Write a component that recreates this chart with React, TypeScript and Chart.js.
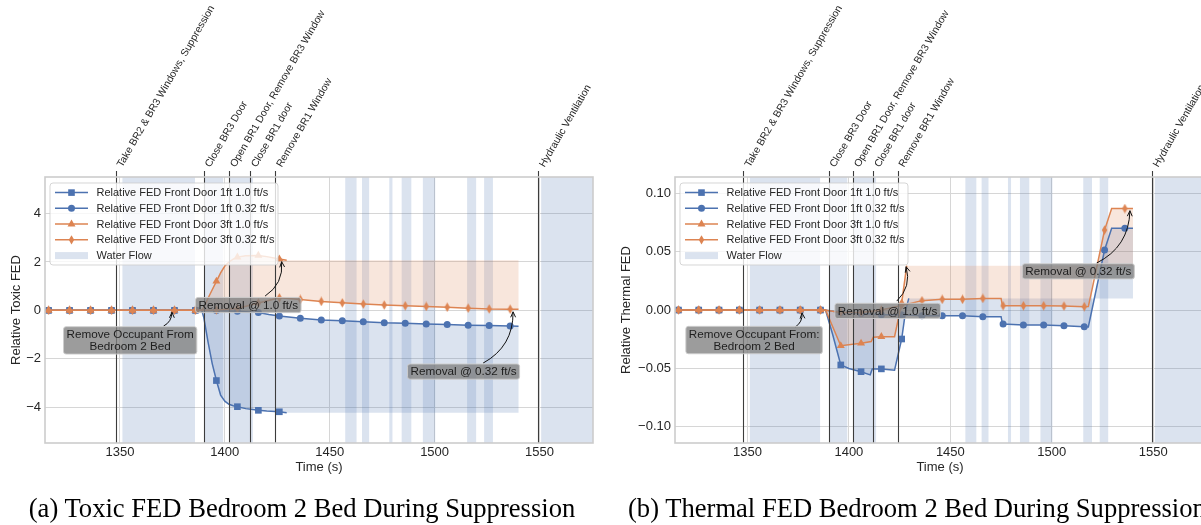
import React, { useEffect, useRef } from "react";
import { Chart, registerables } from "chart.js";

Chart.register(...registerables);

const BLUE = "#4C72B0";
const ORANGE = "#DD8452";
const TEXT = "#262626";
const FONT = "'Liberation Sans', Arial, sans-serif";

// ---------- shared axis / event data ----------
const xTicks = [1350, 1400, 1450, 1500, 1550];
const xRange = [1314.3, 1575.5];
const markerTimes = [1316, 1326, 1336, 1346, 1356, 1366, 1376, 1386, 1396, 1406, 1416, 1426, 1436, 1446, 1456, 1466, 1476, 1486, 1496, 1506, 1516, 1526, 1536];

const eventTimes = [1348, 1390, 1402, 1412, 1424, 1549.3];
const eventLabels = [
  "Take BR2 & BR3 Windows, Suppression",
  "Close BR3 Door",
  "Open BR1 Door, Remove BR3 Window",
  "Close BR1 door",
  "Remove BR1 Window",
  "Hydraulic Ventilation",
];

const waterStart = [1351.2, 1390.2, 1402.2, 1457.4, 1465.4, 1478.4, 1484.3, 1494.4, 1515.5, 1523.6, 1550.8];
const waterEnd = [1385.8, 1399.2, 1413.4, 1462.8, 1468.8, 1479.9, 1488.9, 1500.3, 1519.8, 1527.8, 1600];

const seriesLabels = [
  "Relative FED Front Door 1ft 1.0 ft/s",
  "Relative FED Front Door 1ft 0.32 ft/s",
  "Relative FED Front Door 3ft 1.0 ft/s",
  "Relative FED Front Door 3ft 0.32 ft/s",
];
const waterLabel = "Water Flow";

// ---------- (a) toxic FED ----------
const toxYTicks = [-4, -2, 0, 2, 4];
const toxYRange = [-5.48, 5.51];

const toxT_1ft10 = [1316, 1326, 1336, 1346, 1356, 1366, 1376, 1386, 1389, 1390, 1392, 1394, 1396, 1398, 1400, 1402, 1404, 1406, 1410, 1416, 1420, 1426, 1429.5];
const toxV_1ft10 = [0, 0, 0, 0, 0, 0, 0, 0, 0, -0.3, -1.3, -2.2, -2.9, -3.5, -3.75, -3.88, -3.94, -3.98, -4.06, -4.13, -4.16, -4.19, -4.23];

const toxT_1ft032 = [1316, 1326, 1336, 1346, 1356, 1366, 1376, 1386, 1389, 1396, 1406, 1416, 1421, 1426, 1436, 1446, 1456, 1466, 1476, 1486, 1496, 1506, 1516, 1526, 1536, 1540];
const toxV_1ft032 = [0, 0, 0, 0, 0, 0, 0, 0, 0, -0.01, -0.04, -0.09, -0.17, -0.23, -0.33, -0.4, -0.43, -0.47, -0.51, -0.53, -0.56, -0.58, -0.61, -0.63, -0.65, -0.66];

const toxT_3ft10 = [1316, 1326, 1336, 1346, 1356, 1366, 1376, 1386, 1389, 1390, 1392, 1394, 1396, 1398, 1400, 1402, 1404, 1406, 1410, 1416, 1420, 1426, 1429.5];
const toxV_3ft10 = [0, 0, 0, 0, 0, 0, 0, 0, 0, 0.12, 0.5, 0.85, 1.2, 1.55, 1.83, 2.0, 2.12, 2.2, 2.26, 2.27, 2.22, 2.12, 2.07];

const toxT_3ft032 = [1316, 1326, 1336, 1346, 1356, 1366, 1376, 1386, 1389, 1396, 1406, 1416, 1426, 1436, 1446, 1456, 1466, 1476, 1486, 1496, 1506, 1516, 1526, 1536, 1540];
const toxV_3ft032 = [0, 0, 0, 0, 0, 0, 0, 0, 0, 0.02, 0.08, 0.3, 0.52, 0.45, 0.37, 0.31, 0.26, 0.22, 0.19, 0.16, 0.13, 0.09, 0.06, 0.05, 0.05];

const toxNoteText = [["Remove Occupant From", "Bedroom 2 Bed"], ["Removal @ 1.0 ft/s"], ["Removal @ 0.32 ft/s"]];
const toxNoteAt = [[1354.9, -1.24], [1411.2, 0.22], [1513.8, -2.53]];
const toxNoteFrom = [[1370.8, -0.65], [1419.2, 0.59], [1523.1, -2.18]];
const toxNoteTo = [[1374.8, -0.08], [1427.1, 2.01], [1537.4, -0.06]];

// ---------- (b) thermal FED ----------
const thmYTicks = [-0.1, -0.05, 0, 0.05, 0.1];
const thmYRange = [-0.1139, 0.114];

const thmT_1ft10 = [1316, 1326, 1336, 1346, 1356, 1366, 1376, 1386, 1388.5, 1390, 1392, 1394, 1396, 1400, 1406, 1410.5, 1411.5, 1416, 1422.5, 1426, 1428, 1429.5];
const thmV_1ft10 = [0, 0, 0, 0, 0, 0, 0, 0, 0, -0.009, -0.021, -0.034, -0.047, -0.05, -0.0528, -0.0555, -0.0505, -0.0504, -0.0515, -0.0248, 0.0, 0.01];

const thmT_1ft032 = [1316, 1326, 1336, 1346, 1356, 1366, 1376, 1386, 1388, 1396, 1406, 1416, 1426, 1436, 1446, 1456, 1466, 1475, 1475.6, 1476, 1486, 1496, 1506, 1516, 1518, 1520, 1526, 1529.5, 1536, 1540];
const thmV_1ft032 = [0, 0, 0, 0, 0, 0, 0, 0, 0, -0.002, -0.003, -0.004, -0.004, -0.0049, -0.0049, -0.0049, -0.0057, -0.0057, -0.011, -0.0119, -0.0128, -0.0128, -0.0134, -0.0143, -0.0145, 0.002, 0.0514, 0.07, 0.07, 0.07];

const thmT_3ft10 = [1316, 1326, 1336, 1346, 1356, 1366, 1376, 1386, 1388.5, 1396, 1406, 1411, 1412, 1416, 1422.5, 1426, 1428.5];
const thmV_3ft10 = [0, 0, 0, 0, 0, 0, 0, 0, 0, -0.0306, -0.0285, -0.027, -0.0232, -0.0228, -0.0228, 0.006, 0.038];

const thmT_3ft032 = [1316, 1326, 1336, 1346, 1356, 1366, 1376, 1386, 1388, 1396, 1406, 1416, 1426, 1436, 1446, 1456, 1466, 1475, 1475.6, 1476, 1486, 1496, 1506, 1516, 1518, 1520, 1526, 1529.5, 1536, 1540];
const thmV_3ft032 = [0, 0, 0, 0, 0, 0, 0, 0, 0, -0.002, -0.002, 0.0, 0.004, 0.008, 0.0092, 0.0092, 0.01, 0.01, 0.0045, 0.0037, 0.0037, 0.0037, 0.0034, 0.0029, 0.003, 0.019, 0.0685, 0.087, 0.087, 0.087];

const thmNoteText = [["Remove Occupant From:", "Bedroom 2 Bed"], ["Removal @ 1.0 ft/s"], ["Removal @ 0.32 ft/s"]];
const thmNoteAt = [[1353.3, -0.0257], [1419.1, -0.0007], [1513.1, 0.0332]];
const thmNoteFrom = [[1373.5, -0.0146], [1423.6, 0.0077], [1522.1, 0.0403]];
const thmNoteTo = [[1376.9, -0.0026], [1428.2, 0.0371], [1538.5, 0.0851]];

// ---------- helpers ----------
type Series = { t: number[]; v: number[] };

function thinDiamond(color: string) {
  const c = document.createElement("canvas");
  c.width = 7;
  c.height = 10;
  const g = c.getContext("2d")!;
  g.fillStyle = color;
  g.beginPath();
  g.moveTo(3.5, 0.3);
  g.lineTo(6.2, 5);
  g.lineTo(3.5, 9.7);
  g.lineTo(0.8, 5);
  g.closePath();
  g.fill();
  return c;
}

function drawMarker(ctx: CanvasRenderingContext2D, kind: number, x: number, y: number, color: string) {
  ctx.fillStyle = color;
  ctx.beginPath();
  if (kind === 0) ctx.rect(x - 3.3, y - 3.3, 6.6, 6.6);
  else if (kind === 1) ctx.arc(x, y, 3.5, 0, Math.PI * 2);
  else if (kind === 2) {
    ctx.moveTo(x, y - 4.6);
    ctx.lineTo(x + 4, y + 2.3);
    ctx.lineTo(x - 4, y + 2.3);
    ctx.closePath();
  } else {
    ctx.moveTo(x, y - 4.7);
    ctx.lineTo(x + 2.7, y);
    ctx.lineTo(x, y + 4.7);
    ctx.lineTo(x - 2.7, y);
    ctx.closePath();
  }
  ctx.fill();
}

function roundRect(ctx: CanvasRenderingContext2D, x: number, y: number, w: number, h: number, r: number) {
  ctx.beginPath();
  ctx.moveTo(x + r, y);
  ctx.arcTo(x + w, y, x + w, y + h, r);
  ctx.arcTo(x + w, y + h, x, y + h, r);
  ctx.arcTo(x, y + h, x, y, r);
  ctx.arcTo(x, y, x + w, y, r);
  ctx.closePath();
}

function drawArrow(ctx: CanvasRenderingContext2D, x0: number, y0: number, x1: number, y1: number, rad: number) {
  const cx = (x0 + x1) / 2 - rad * (y1 - y0);
  const cy = (y0 + y1) / 2 + rad * (x1 - x0);
  ctx.strokeStyle = "#111";
  ctx.lineWidth = 1;
  ctx.beginPath();
  ctx.moveTo(x0, y0);
  ctx.quadraticCurveTo(cx, cy, x1, y1);
  ctx.stroke();
  const ang = Math.atan2(y1 - cy, x1 - cx);
  const L = 6;
  const s = 0.42;
  ctx.beginPath();
  ctx.moveTo(x1 - L * Math.cos(ang - s), y1 - L * Math.sin(ang - s));
  ctx.lineTo(x1, y1);
  ctx.lineTo(x1 - L * Math.cos(ang + s), y1 - L * Math.sin(ang + s));
  ctx.stroke();
}

type Cfg = {
  series: Series[];
  yTicks: number[];
  yRange: number[];
  yFmt: (v: number) => string;
  yTitle: string;
  yTitleX: number;
  yAxisWidth: number;
  padRight: number;
  noteText: string[][];
  noteAt: number[][];
  noteFrom: number[][];
  noteTo: number[][];
};

function makeDecor(cfg: Cfg) {
  return {
    id: "decor",
    beforeDatasetsDraw(chart: any) {
      const { ctx, chartArea: a, scales } = chart;
      const xs = scales.x;
      const ys = scales.y;
      ctx.save();
      ctx.beginPath();
      ctx.rect(a.left, a.top, a.right - a.left, a.bottom - a.top);
      ctx.clip();
      ctx.fillStyle = "rgba(76,114,176,0.2)";
      waterStart.forEach((s, i) => {
        const x0 = xs.getPixelForValue(s);
        const x1 = xs.getPixelForValue(waterEnd[i]);
        ctx.fillRect(x0, a.top, x1 - x0, a.bottom - a.top);
      });
      const fillBetween = (A: Series, B: Series, color: string) => {
        ctx.beginPath();
        A.t.forEach((t, i) => {
          const px = xs.getPixelForValue(t);
          const py = ys.getPixelForValue(A.v[i]);
          if (i === 0) ctx.moveTo(px, py);
          else ctx.lineTo(px, py);
        });
        ctx.lineTo(xs.getPixelForValue(B.t[B.t.length - 1]), ys.getPixelForValue(A.v[A.v.length - 1]));
        for (let i = B.t.length - 1; i >= 0; i--) {
          ctx.lineTo(xs.getPixelForValue(B.t[i]), ys.getPixelForValue(B.v[i]));
        }
        ctx.closePath();
        ctx.fillStyle = color;
        ctx.fill();
      };
      fillBetween(cfg.series[0], cfg.series[1], "rgba(76,114,176,0.2)");
      fillBetween(cfg.series[2], cfg.series[3], "rgba(221,132,82,0.2)");
      ctx.restore();
    },
    afterDatasetsDraw(chart: any) {
      const { ctx, chartArea: a, scales } = chart;
      const xs = scales.x;
      const ys = scales.y;
      ctx.save();
      // event lines
      ctx.strokeStyle = "#3c3c3c";
      ctx.lineWidth = 1.1;
      eventTimes.forEach((t) => {
        const x = Math.round(xs.getPixelForValue(t)) + 0.5;
        ctx.beginPath();
        ctx.moveTo(x, a.top - 6);
        ctx.lineTo(x, a.bottom);
        ctx.stroke();
      });
      // frame
      ctx.strokeStyle = "#cccccc";
      ctx.lineWidth = 1.6;
      ctx.strokeRect(a.left, a.top, a.right - a.left, a.bottom - a.top);
      // event labels (rotated 60 deg, bbox anchored left-bottom at line top)
      ctx.font = `10.3px ${FONT}`;
      ctx.fillStyle = TEXT;
      ctx.textAlign = "left";
      ctx.textBaseline = "bottom";
      eventTimes.forEach((t, i) => {
        const x = xs.getPixelForValue(t);
        ctx.save();
        ctx.translate(x + 8.5, a.top - 8);
        ctx.rotate(-Math.PI / 3);
        ctx.fillText(eventLabels[i], 0, 0);
        ctx.restore();
      });
      // annotations
      cfg.noteText.forEach((lines, i) => {
        const fx = xs.getPixelForValue(cfg.noteFrom[i][0]);
        const fy = ys.getPixelForValue(cfg.noteFrom[i][1]);
        const tx = xs.getPixelForValue(cfg.noteTo[i][0]);
        const ty = ys.getPixelForValue(cfg.noteTo[i][1]);
        drawArrow(ctx, fx, fy, tx, ty, 0.3);
        ctx.font = `11.7px ${FONT}`;
        const lh = 12.2;
        const w = Math.max(...lines.map((l) => ctx.measureText(l).width)) + 6;
        const h = lines.length * lh + 3;
        const cx = xs.getPixelForValue(cfg.noteAt[i][0]);
        const cy = ys.getPixelForValue(cfg.noteAt[i][1]);
        roundRect(ctx, cx - w / 2, cy - h / 2, w, h, 2.5);
        ctx.fillStyle = "rgba(128,128,128,0.78)";
        ctx.fill();
        ctx.strokeStyle = "rgba(205,205,205,0.9)";
        ctx.lineWidth = 1;
        ctx.stroke();
        ctx.fillStyle = "#1e1e1e";
        ctx.textAlign = "center";
        ctx.textBaseline = "middle";
        lines.forEach((l, k) => {
          ctx.fillText(l, cx, cy - h / 2 + 1.5 + lh * (k + 0.5) + 0.5);
        });
      });
      // legend
      const lx = a.left + 5;
      const ly = a.top + 6;
      const lw = 228;
      const lhBox = 82;
      roundRect(ctx, lx, ly, lw, lhBox, 3);
      ctx.fillStyle = "rgba(255,255,255,0.8)";
      ctx.fill();
      ctx.strokeStyle = "rgba(204,204,204,0.8)";
      ctx.lineWidth = 1;
      ctx.stroke();
      ctx.font = `11px ${FONT}`;
      ctx.textAlign = "left";
      ctx.textBaseline = "middle";
      const colors = [BLUE, BLUE, ORANGE, ORANGE];
      seriesLabels.forEach((lab, i) => {
        const ry = ly + 9.6 + i * 15.75;
        ctx.strokeStyle = colors[i];
        ctx.lineWidth = 1.5;
        ctx.beginPath();
        ctx.moveTo(lx + 5, ry);
        ctx.lineTo(lx + 38, ry);
        ctx.stroke();
        drawMarker(ctx, i, lx + 21.5, ry, colors[i]);
        ctx.fillStyle = TEXT;
        ctx.fillText(lab, lx + 46.5, ry + 0.5);
      });
      const wy = ly + 9.6 + 4 * 15.75;
      ctx.fillStyle = "rgba(76,114,176,0.2)";
      ctx.fillRect(lx + 5, wy - 3.5, 33, 7);
      ctx.fillStyle = TEXT;
      ctx.fillText(waterLabel, lx + 46.5, wy + 0.5);
      // axis titles
      ctx.font = `13px ${FONT}`;
      ctx.fillStyle = TEXT;
      ctx.textAlign = "center";
      ctx.textBaseline = "middle";
      ctx.fillText("Time (s)", (a.left + a.right) / 2, 467);
      ctx.save();
      ctx.translate(cfg.yTitleX, (a.top + a.bottom) / 2);
      ctx.rotate(-Math.PI / 2);
      ctx.fillText(cfg.yTitle, 0, 0);
      ctx.restore();
      ctx.restore();
    },
  };
}

function buildConfig(cfg: Cfg): any {
  const styles: any[] = ["rect", "circle", "triangle", thinDiamond(ORANGE)];
  const radii = [4.7, 3.5, 4.6, 3];
  const colors = [BLUE, BLUE, ORANGE, ORANGE];
  const datasets = cfg.series.map((s, i) => ({
    label: seriesLabels[i],
    data: s.t.map((t, j) => ({ x: t, y: s.v[j] })),
    borderColor: colors[i],
    backgroundColor: colors[i],
    borderWidth: 1.5,
    pointStyle: styles[i],
    pointRadius: s.t.map((t) => (markerTimes.includes(t) ? radii[i] : 0)),
    pointHoverRadius: 0,
    pointBorderWidth: 0,
    pointBackgroundColor: colors[i],
    tension: 0,
    fill: false,
    order: 4 - i,
  }));
  return {
    type: "line",
    data: { datasets },
    options: {
      responsive: false,
      animation: false,
      devicePixelRatio: 1,
      events: [],
      layout: { padding: { top: 177, right: cfg.padRight, bottom: 0, left: 0 } },
      plugins: { legend: { display: false }, tooltip: { enabled: false } },
      scales: {
        x: {
          type: "linear",
          min: xRange[0],
          max: xRange[1],
          afterBuildTicks: (sc: any) => {
            sc.ticks = xTicks.map((v) => ({ value: v }));
          },
          afterFit: (sc: any) => {
            sc.height = 82;
          },
          grid: { color: "#d6d6d6", lineWidth: 1, drawTicks: false },
          border: { display: false },
          ticks: {
            padding: 2,
            color: TEXT,
            font: { family: FONT, size: 13 },
            maxRotation: 0,
            callback: (v: number) => String(v),
          },
        },
        y: {
          type: "linear",
          min: cfg.yRange[0],
          max: cfg.yRange[1],
          afterBuildTicks: (sc: any) => {
            sc.ticks = cfg.yTicks.map((v) => ({ value: v }));
          },
          afterFit: (sc: any) => {
            sc.width = cfg.yAxisWidth;
          },
          grid: { color: "#d6d6d6", lineWidth: 1, drawTicks: false },
          border: { display: false },
          ticks: {
            padding: 4,
            color: TEXT,
            font: { family: FONT, size: 13 },
            callback: (v: number) => cfg.yFmt(v),
          },
        },
      },
    },
    plugins: [makeDecor(cfg)],
  };
}

const toxCfg: Cfg = {
  series: [
    { t: toxT_1ft10, v: toxV_1ft10 },
    { t: toxT_1ft032, v: toxV_1ft032 },
    { t: toxT_3ft10, v: toxV_3ft10 },
    { t: toxT_3ft032, v: toxV_3ft032 },
  ],
  yTicks: toxYTicks,
  yRange: toxYRange,
  yFmt: (v) => (v < 0 ? "\u2212" + Math.abs(v) : String(v)),
  yTitle: "Relative Toxic FED",
  yTitleX: 16,
  yAxisWidth: 45,
  padRight: 7,
  noteText: toxNoteText,
  noteAt: toxNoteAt,
  noteFrom: toxNoteFrom,
  noteTo: toxNoteTo,
};

const thmCfg: Cfg = {
  series: [
    { t: thmT_1ft10, v: thmV_1ft10 },
    { t: thmT_1ft032, v: thmV_1ft032 },
    { t: thmT_3ft10, v: thmV_3ft10 },
    { t: thmT_3ft032, v: thmV_3ft032 },
  ],
  yTicks: thmYTicks,
  yRange: thmYRange,
  yFmt: (v) => (v < 0 ? "\u2212" + Math.abs(v).toFixed(2) : v.toFixed(2)),
  yTitle: "Relative Thermal FED",
  yTitleX: 26,
  yAxisWidth: 75,
  padRight: 15,
  noteText: thmNoteText,
  noteAt: thmNoteAt,
  noteFrom: thmNoteFrom,
  noteTo: thmNoteTo,
};

function FedChart({ cfg, left, width }: { cfg: Cfg; left: number; width: number }) {
  const ref = useRef<HTMLCanvasElement>(null);
  useEffect(() => {
    const chart = new Chart(ref.current!, buildConfig(cfg));
    return () => chart.destroy();
  }, []);
  return (
    <canvas
      ref={ref}
      width={width}
      height={525}
      style={{ position: "absolute", left, top: 0, width, height: 525 }}
    />
  );
}

const captionStyle: any = {
  position: "absolute",
  top: 493,
  font: "26.6px 'Liberation Serif', 'Times New Roman', serif",
  lineHeight: "30px",
  color: "#000",
  whiteSpace: "nowrap",
};

export default function App() {
  return (
    <div
      style={{
        position: "absolute",
        left: 0,
        top: 0,
        width: 1201,
        height: 525,
        overflow: "hidden",
        background: "#fff",
      }}
    >
      <FedChart cfg={toxCfg} left={0} width={600} />
      <FedChart cfg={thmCfg} left={600} width={620} />
      <div style={{ ...captionStyle, left: 0, width: 604, textAlign: "center" }}>
        (a) Toxic FED Bedroom 2 Bed During Suppression
      </div>
      <div style={{ ...captionStyle, left: 628 }}>
        (b) Thermal FED Bedroom 2 Bed During Suppression
      </div>
    </div>
  );
}
